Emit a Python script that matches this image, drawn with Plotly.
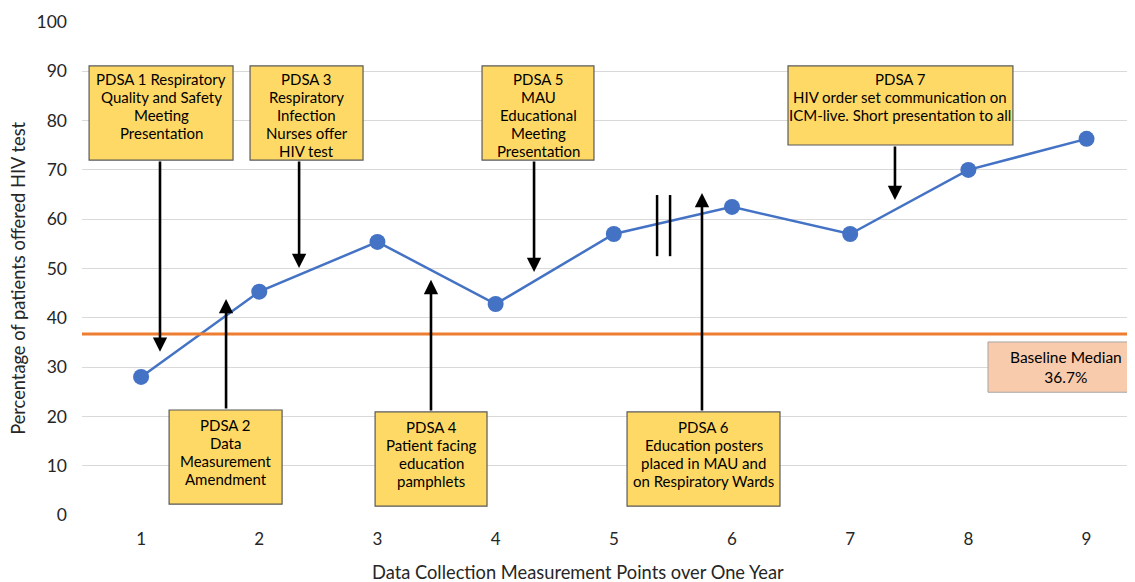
import plotly.graph_objects as go

# ---- data ----
points = [1, 2, 3, 4, 5, 6, 7, 8, 9]
pct_offered = [28.0, 45.3, 55.4, 42.8, 57.0, 62.5, 57.0, 70.0, 76.3]
baseline_median = 36.7
x_ticks = [1, 2, 3, 4, 5, 6, 7, 8, 9]
y_ticks = [0, 10, 20, 30, 40, 50, 60, 70, 80, 90, 100]

pdsa_labels = [
    ["PDSA 1 Respiratory", "Quality and Safety", "Meeting", "Presentation"],
    ["PDSA 2", "Data", "Measurement", "Amendment"],
    ["PDSA 3", "Respiratory", "Infection", "Nurses offer", "HIV test"],
    ["PDSA 4", "Patient facing", "education", "pamphlets"],
    ["PDSA 5", "MAU", "Educational", "Meeting", "Presentation"],
    ["PDSA 6", "Education posters", "placed in MAU and", "on Respiratory Wards"],
    ["PDSA 7", "HIV order set communication on", "ICM-live. Short presentation to all"],
]

# ---- layout geometry (box x0, x1, y_top, y_bottom ; arrow x, tail y, tip y) ----
boxes = [
    (0.560, 1.778, 91.1, 72.0),
    (1.237, 2.193, 21.3, 2.2),
    (1.922, 2.878, 91.1, 72.0),
    (2.980, 3.927, 20.9, 1.8),
    (3.885, 4.832, 91.1, 72.0),
    (5.112, 6.406, 20.9, 1.8),
    (6.474, 8.377, 91.1, 75.05),
]
arrows = [
    (1.16, 72.0, 33.1),
    (1.719, 21.3, 43.8),
    (2.337, 72.0, 50.1),
    (3.453, 20.9, 47.7),
    (4.325, 72.0, 49.3),
    (5.746, 20.9, 65.3),
    (7.379, 75.05, 63.9),
]

FONT = "Lato"
TXT = "#262626"
PX = 100 / 493.0  # data units per pixel on y
fig = go.Figure()

fig.add_trace(go.Scatter(
    x=points, y=pct_offered, mode="lines+markers",
    line=dict(color="#4472C4", width=2.5),
    marker=dict(color="#4472C4", size=16),
    showlegend=False, hoverinfo="x+y",
))

shapes = []
annotations = []

# baseline median line
shapes.append(dict(type="line", xref="paper", x0=0, x1=1, yref="y",
                   y0=baseline_median, y1=baseline_median,
                   line=dict(color="#ED7D31", width=3), layer="above"))

# break marks
for bx in (5.366, 5.476):
    shapes.append(dict(type="line", xref="x", yref="y", x0=bx, x1=bx,
                       y0=52.5, y1=64.9, line=dict(color="black", width=2.5)))

for (x0, x1, yt, yb), lines in zip(boxes, pdsa_labels):
    shapes.append(dict(type="rect", xref="x", yref="y", x0=x0, x1=x1, y0=yb, y1=yt,
                       fillcolor="#FFD966", line=dict(color="#595959", width=1.2),
                       layer="above"))
    first = 13 if yt > 50 else 15
    for i, ln in enumerate(lines):
        annotations.append(dict(x=(x0 + x1) / 2, y=yt - (first + 18 * i) * PX,
                                xref="x", yref="y", text=ln, showarrow=False,
                                xanchor="center", yanchor="middle",
                                font=dict(family=FONT, size=15, color="black")))

for ax_, tail, tip in arrows:
    annotations.append(dict(x=ax_, y=tip, ax=ax_, ay=tail, xref="x", yref="y",
                            axref="x", ayref="y", text="", showarrow=True,
                            arrowhead=2, arrowsize=1.1, arrowwidth=2.6,
                            arrowcolor="black"))

# baseline box
shapes.append(dict(type="rect", xref="x", yref="y", x0=8.166, x1=9.5, y0=24.9, y1=35.1,
                   fillcolor="#F8CBAD", line=dict(color="#A6A6A6", width=1),
                   layer="above"))
annotations.append(dict(x=8.83, y=30.0, xref="x", yref="y",
                        text="Baseline Median<br>36.7%", showarrow=False,
                        xanchor="center", yanchor="middle", align="center",
                        font=dict(family=FONT, size=15.5, color="black")))

# axis titles as annotations for exact placement
annotations.append(dict(x=-0.0608, y=0.481, xref="paper", yref="paper",
                        text="Percentage of patients offered HIV test", textangle=-90,
                        showarrow=False, xanchor="center", yanchor="middle",
                        font=dict(family=FONT, size=18.3, color=TXT)))
annotations.append(dict(x=0.471, y=-0.1156, xref="paper", yref="paper",
                        text="Data Collection Measurement Points over One Year",
                        showarrow=False, xanchor="center", yanchor="middle",
                        font=dict(family=FONT, size=18.3, color=TXT)))

fig.update_layout(
    width=1127, height=574,
    margin=dict(l=74, r=0, t=14, b=67),
    paper_bgcolor="white", plot_bgcolor="white",
    shapes=shapes, annotations=annotations,
    font=dict(family=FONT, color="#000000"),
    xaxis=dict(range=[0.5, 9.41], tickvals=x_ticks, ticktext=[str(t) for t in x_ticks],
               showgrid=False, zeroline=False, showline=False, ticks="",
               ticklabelstandoff=12,
               tickfont=dict(size=17, family=FONT, color=TXT)),
    yaxis=dict(range=[0, 100], tickvals=y_ticks, showgrid=True, gridcolor="#D9D9D9",
               gridwidth=1, zeroline=False, showline=False, ticks="",
               ticklabelstandoff=14,
               tickfont=dict(size=17.5, family=FONT, color=TXT)),
)

fig.write_html("out.html")
